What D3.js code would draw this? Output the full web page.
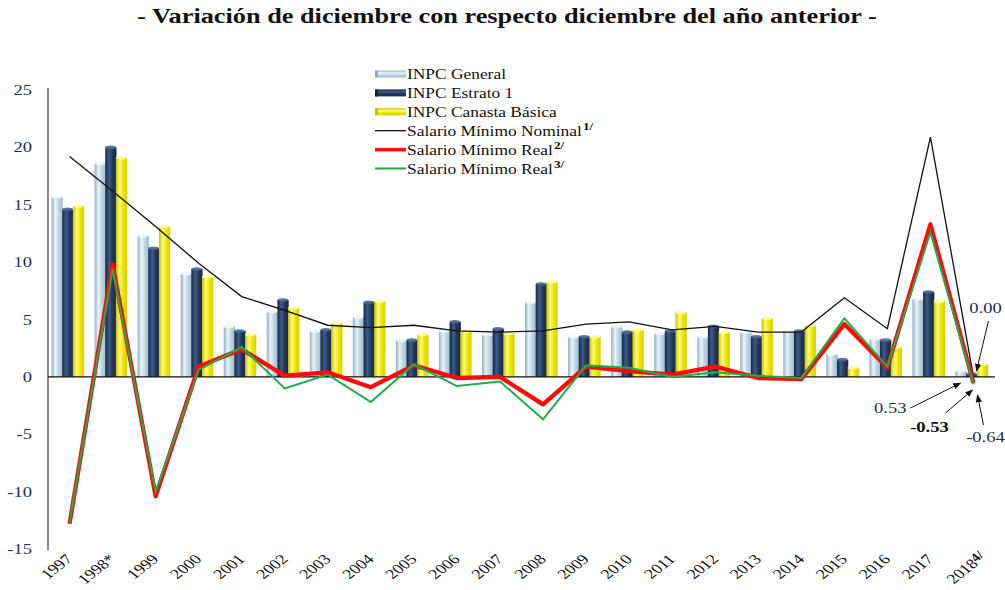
<!DOCTYPE html>
<html><head><meta charset="utf-8">
<script src="https://cdn.jsdelivr.net/npm/d3@7"></script>
<style>body{margin:0;background:#fff}svg{display:block}</style></head>
<body><svg id="c" width="1005" height="590"></svg>
<script>
const years = ["1997","1998*","1999","2000","2001","2002","2003","2004","2005","2006","2007","2008","2009","2010","2011","2012","2013","2014","2015","2016","2017","2018"];
const inpcGeneral = [15.7,18.6,12.3,9.0,4.4,5.7,4.0,5.2,3.2,4.0,3.7,6.5,3.5,4.4,3.8,3.5,3.9,4.0,2.0,3.3,6.8,0.53];
const inpcEstrato1 = [14.6,20.0,11.2,9.4,4.0,6.7,4.1,6.5,3.2,4.8,4.2,8.1,3.5,3.9,4.0,4.4,3.5,4.0,1.5,3.2,7.4,0.25];
const inpcCanasta = [14.9,19.1,13.1,8.7,3.7,6.0,4.7,6.6,3.7,4.0,3.8,8.3,3.5,4.1,5.6,3.9,5.1,4.5,0.8,2.6,6.6,1.1];
const salNominal = [19.2,16.2,13.1,9.9,7.0,5.8,4.5,4.3,4.5,4.0,3.9,4.0,4.6,4.8,4.1,4.4,3.9,3.9,6.9,4.2,20.9,0.0];
const salReal2 = [-12.8,9.8,-10.4,0.9,2.4,0.1,0.4,-0.9,1.0,-0.1,0.0,-2.4,0.9,0.5,0.2,0.9,-0.1,-0.2,4.6,0.8,13.3,-0.53];
const salReal3 = [-12.7,9.4,-10.0,0.6,2.6,-1.0,0.2,-2.2,1.1,-0.8,-0.4,-3.7,1.0,0.8,0.0,0.4,0.1,-0.1,5.1,0.9,12.6,-0.64];
const yTicks = [-15,-10,-5,0,5,10,15,20,25];
const barSeries = ["INPC General","INPC Estrato 1","INPC Canasta Básica"];
const lineSeries = ["Salario Mínimo Nominal","Salario Mínimo Real","Salario Mínimo Real"];
const lineSup = ["1/","2/","3/"];
const annotations = ["0.00","0.53","-0.53","-0.64"];
const title = "- Variación de diciembre con respecto diciembre del año anterior -";

const SX = 1.28;
const serif = "'Liberation Serif','DejaVu Serif',serif";
const svg = d3.select("#c");
const defs = svg.append("defs");

const x = d3.scaleBand().domain(years).range([48, 995]).padding(0);
const y = d3.scaleLinear().domain([-15, 25]).range([549, 90]);
const gw = 32;
const x1 = d3.scaleBand().domain(barSeries).range([0, gw]).padding(0);

const barColors = [
  {id:"gL", stops:["#8fb2c2","#e9f4f8","#bcd5df","#9dbdcb"], cap:"#eef7fa"},
  {id:"gD", stops:["#15264a","#3f5b86","#22375c","#17294c"], cap:"#4a6690"},
  {id:"gY", stops:["#c9c100","#fffb7a","#eee600","#d8cf00"], cap:"#fffca0"}
];
barColors.forEach(c=>{
  const g = defs.append("linearGradient").attr("id",c.id).attr("x1","0").attr("x2","1").attr("y1","0").attr("y2","0");
  [0,0.35,0.65,1].forEach((o,i)=>g.append("stop").attr("offset",o).attr("stop-color",c.stops[i]));
  const gv = defs.append("linearGradient").attr("id",c.id+"v").attr("x1","0").attr("x2","0").attr("y1","0").attr("y2","1");
  [0,0.35,0.65,1].forEach((o,i)=>gv.append("stop").attr("offset",o).attr("stop-color",c.stops[i]));
});
const arrowM = defs.append("marker").attr("id","arr").attr("viewBox","0 0 10 10").attr("refX",9).attr("refY",5)
  .attr("markerWidth",8).attr("markerHeight",8).attr("orient","auto-start-reverse").attr("markerUnits","userSpaceOnUse");
arrowM.append("path").attr("d","M0,1 L10,5 L0,9 z").attr("fill","#111");

// title
const tt = svg.append("text").attr("font-family",serif).attr("font-weight","bold").attr("font-size",21)
  .attr("fill","#111").attr("text-anchor","middle").text(title);
const tl = tt.node().getComputedTextLength();
tt.attr("transform",`translate(507,23) scale(${740/tl},1)`);

// y axis
svg.append("line").attr("x1",48).attr("x2",48).attr("y1",y(25)-2).attr("y2",y(-15)+1).attr("stroke","#8a8a8a").attr("stroke-width",2);
svg.selectAll(".yt").data(yTicks).enter().append("text")
  .attr("font-family",serif).attr("font-size",14.5).attr("fill","#1f2f55").attr("text-anchor","end")
  .attr("transform",d=>`translate(32,${y(d)+5}) scale(${SX},1)`).text(d=>d);

// bars
const seriesData = [inpcGeneral, inpcEstrato1, inpcCanasta];
seriesData.forEach((arr, si)=>{
  const g = svg.append("g");
  const bw = x1.bandwidth();
  arr.forEach((v,i)=>{
    const bx = x(years[i]) + (x.bandwidth()-gw)/2 - 2 + x1(barSeries[si]);
    const top = y(Math.max(0,v)), h = Math.abs(y(v)-y(0));
    g.append("rect").attr("x",bx).attr("y",top).attr("width",bw+0.6).attr("height",h).attr("fill",`url(#${barColors[si].id})`);
    if (h>1) g.append("ellipse").attr("cx",bx+bw/2).attr("cy",top).attr("rx",bw/2).attr("ry",1.8).attr("fill",barColors[si].cap).attr("opacity",0.9);
  });
});

// zero line
svg.append("line").attr("x1",48).attr("x2",995).attr("y1",y(0)).attr("y2",y(0)).attr("stroke","#111").attr("stroke-width",1.3);

// lines
const cx = d => x(d) + x.bandwidth()/2;
const line = d3.line().x((d,i)=>cx(years[i])).y(d=>y(d));
svg.append("path").datum(salNominal).attr("d",line).attr("fill","none").attr("stroke","#111").attr("stroke-width",1.3);
svg.append("path").datum(salReal2).attr("d",line).attr("fill","none").attr("stroke","#ff0a0a").attr("stroke-width",4.3).attr("stroke-linejoin","round");
svg.append("path").datum(salReal3).attr("d",line).attr("fill","none").attr("stroke","#18b04a").attr("stroke-width",2).attr("stroke-linejoin","miter");

// x labels
const xl = svg.selectAll(".xl").data(years).enter().append("text")
  .attr("font-family",serif).attr("font-size",14).attr("fill","#111").attr("text-anchor","end")
  .attr("transform",d=>`translate(${cx(d)+4},${560}) scale(${SX},1) rotate(-45)`);
xl.text(d=>d);
xl.filter(d=>d==="2018").append("tspan").attr("font-weight","bold").attr("font-size",12).attr("dy",-3).text("4/");
xl.filter(d=>d==="2018").attr("transform",d=>`translate(${cx(d)+14},${558}) scale(${SX},1) rotate(-45)`);

// legend
const lg = svg.append("g");
const rowY = i => 74 + i*18.9;
barSeries.forEach((s,i)=>{
  lg.append("rect").attr("x",375).attr("y",rowY(i)-3.5).attr("width",31).attr("height",7).attr("fill",`url(#${barColors[i].id}v)`);
  lg.append("rect").attr("x",375).attr("y",rowY(i)-3.5).attr("width",3).attr("height",7).attr("fill",barColors[i].stops[0]);
  lg.append("text").attr("font-family",serif).attr("font-size",14.5).attr("fill","#111")
    .attr("transform",`translate(407,${rowY(i)+5}) scale(1.2,1)`).text(s);
});
const lineStyles = [{c:"#111",w:1.3},{c:"#ff0a0a",w:3.5},{c:"#18b04a",w:2}];
lineSeries.forEach((s,j)=>{
  const i = j+3;
  lg.append("line").attr("x1",375).attr("x2",406).attr("y1",rowY(i)).attr("y2",rowY(i)).attr("stroke",lineStyles[j].c).attr("stroke-width",lineStyles[j].w);
  const t = lg.append("text").attr("font-family",serif).attr("font-size",14.5).attr("fill","#111")
    .attr("transform",`translate(407,${rowY(i)+5}) scale(1.2,1)`);
  t.append("tspan").text(s);
  t.append("tspan").attr("font-weight","bold").attr("font-size",11).attr("dy",-6).attr("dx",1).text(lineSup[j]);
});

// annotations
const ax = cx("2018");
const ann = [
  {t:annotations[0], tx:ax+12, ty:313, anchor:"middle", bold:false, a:[ax+15,321,ax+3,371]},
  {t:annotations[1], tx:ax-67, ty:413, anchor:"end", bold:false, a:[ax-63,408,ax-13,383]},
  {t:annotations[2], tx:ax-44, ty:432, anchor:"middle", bold:true, a:[ax-28,413,ax-1,390]},
  {t:annotations[3], tx:ax+12, ty:442, anchor:"middle", bold:false, a:[ax+10,425,ax+4,395]}
];
ann.forEach(d=>{
  svg.append("line").attr("x1",d.a[0]).attr("y1",d.a[1]).attr("x2",d.a[2]).attr("y2",d.a[3])
    .attr("stroke","#111").attr("stroke-width",1).attr("marker-end","url(#arr)");
  svg.append("text").attr("font-family",serif).attr("font-size",14.5).attr("fill",d.bold?"#111":"#1f2f55")
    .attr("font-weight",d.bold?"bold":"normal").attr("text-anchor",d.anchor)
    .attr("transform",`translate(${d.tx},${d.ty}) scale(${SX},1)`).text(d.t);
});
</script></body></html>
